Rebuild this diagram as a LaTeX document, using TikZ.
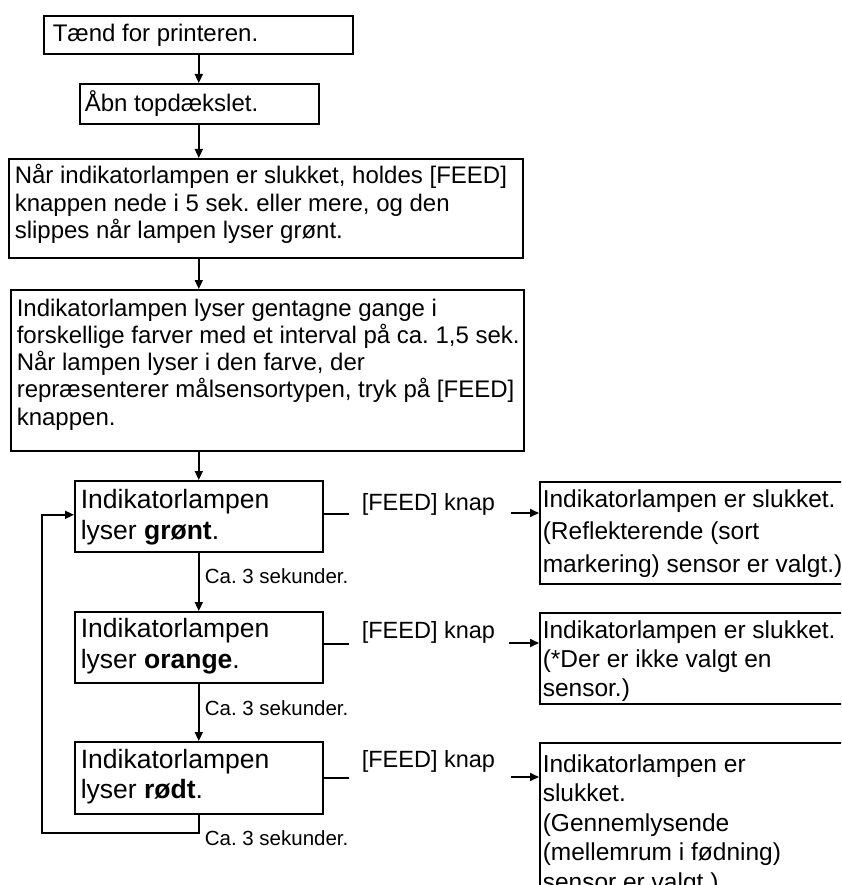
\documentclass[tikz,border=0pt]{standalone}
\usepackage{fontspec}
\setmainfont{Liberation Sans}
\usetikzlibrary{arrows.meta,calc}
\frenchspacing
\begin{document}
\begin{tikzpicture}[x=1pt,y=-1pt,
  line width=1.6pt,
  box/.style={draw,line width=1.6pt,anchor=north west,inner sep=0pt},
  txt/.style={anchor=base west,inner sep=0pt},
  small/.style={font=\fontsize{24}{27.3}\selectfont},
  big/.style={font=\fontsize{26.5}{31}\selectfont},
  arr/.style={-{Triangle[length=9pt,width=8pt]},line width=1.6pt},
  lbl/.style={anchor=base west,inner sep=0pt,font=\fontsize{20.5}{24}\selectfont},
  feed/.style={anchor=base west,inner sep=0pt,font=\fontsize{23.5}{28}\selectfont}]

\useasboundingbox (0,0) rectangle (841,885);
\clip (0,0) rectangle (841,885);

% boxes
\node[box,minimum width=309pt,minimum height=38pt] (b1) at (43,15) {};
\node[box,minimum width=239pt,minimum height=40pt] (b2) at (79,83) {};
\node[box,minimum width=514pt,minimum height=99pt] (b3) at (8,158) {};
\node[box,minimum width=513pt,minimum height=161pt] (b4) at (10,289) {};
\node[box,minimum width=248pt,minimum height=71pt] (g) at (74,480) {};
\node[box,minimum width=248pt,minimum height=71pt] (o) at (74,611) {};
\node[box,minimum width=248pt,minimum height=72pt] (r) at (74,741) {};
\node[box,minimum width=310pt,minimum height=102pt] (R1) at (539,481) {};
\node[box,minimum width=310pt,minimum height=91pt] (R2) at (539,612) {};
\node[box,minimum width=310pt,minimum height=170pt] (R3) at (539,742) {};

% texts
\node[txt,small] (t1) at (52,42) {Tænd for printeren.};
\node[txt,small] (t2) at (84,112) {Åbn topdækslet.};
\node[txt,small] (t3) at (14,184) {\parbox[t]{505pt}{Når indikatorlampen er slukket, holdes [FEED]\\knappen nede i 5 sek. eller mere, og den\\slippes når lampen lyser grønt.}};
\node[txt,small] (t4) at (16,316) {\parbox[t]{505pt}{Indikatorlampen lyser gentagne gange i\\forskellige farver med et interval på ca. 1,5 sek.\\Når lampen lyser i den farve, der\\repræsenterer målsensortypen, tryk på [FEED]\\knappen.}};
\node[txt,big] (tg) at (80,508) {\parbox[t]{240pt}{Indikatorlampen\\lyser \textbf{grønt}.}};
\node[txt,big] (to) at (80,637) {\parbox[t]{240pt}{Indikatorlampen\\lyser \textbf{orange}.}};
\node[txt,big,font=\fontsize{26.5}{30}\selectfont] (tr) at (80,768) {\parbox[t]{240pt}{Indikatorlampen\\lyser \textbf{rødt}.}};
\node[txt,font=\fontsize{24.5}{32.5}\selectfont] (tR1) at (542,507) {\parbox[t]{300pt}{Indikatorlampen er slukket.\\(Reflekterende (sort\\markering) sensor er valgt.)}};
\node[txt,font=\fontsize{24.5}{29}\selectfont] (tR2) at (542,638) {\parbox[t]{300pt}{Indikatorlampen er slukket.\\(*Der er ikke valgt en\\sensor.)}};
\node[txt,font=\fontsize{24.5}{29.5}\selectfont] (tR3) at (542,772) {\parbox[t]{300pt}{Indikatorlampen er\\slukket.\\(Gennemlysende\\(mellemrum i fødning)\\sensor er valgt.)}};

% main spine
\draw[arr] (b1.south -| g.north) -- (b2.north -| g.north);
\draw[arr] (b2.south -| g.north) -- (b3.north -| g.north);
\draw[arr] (b3.south -| g.north) -- (b4.north -| g.north);
\draw[arr] (b4.south -| g.north) -- (g.north);
\draw[arr] (g.south) -- (o.north);
\draw[arr] (o.south) -- (r.north);
\coordinate (lp) at (42,833);
\draw[arr] (r.south) |- (lp) |- ($(g.west)+(0,-1.5)$);

\node[lbl] (c1) at (204,583) {Ca. 3 sekunder.};
\node[lbl] (c2) at (204,715) {Ca. 3 sekunder.};
\node[lbl] (c3) at (204,845) {Ca. 3 sekunder.};

% FEED rows
\coordinate (g1) at ($(g.east)+(0,-2.5)$);
\draw (g1) -- ++(25,0);
\node[feed] (f1) at (361,510) {[FEED] knap};
\coordinate (a1) at (511,513);
\draw[arr] (a1) -- (a1 -| R1.west);

\coordinate (o1) at ($(o.east)+(0,-3.5)$);
\draw (o1) -- ++(25,0);
\node[feed] (f2) at (361,638) {[FEED] knap};
\coordinate (a2) at (509,643);
\draw[arr] (a2) -- (a2 -| R2.west);

\coordinate (r1) at (r.east);
\draw (r1) -- ++(25,0);
\node[feed] (f3) at (361,767) {[FEED] knap};
\coordinate (a3) at (511,777);
\draw[arr] (a3) -- (a3 -| R3.west);
\end{tikzpicture}
\end{document}
